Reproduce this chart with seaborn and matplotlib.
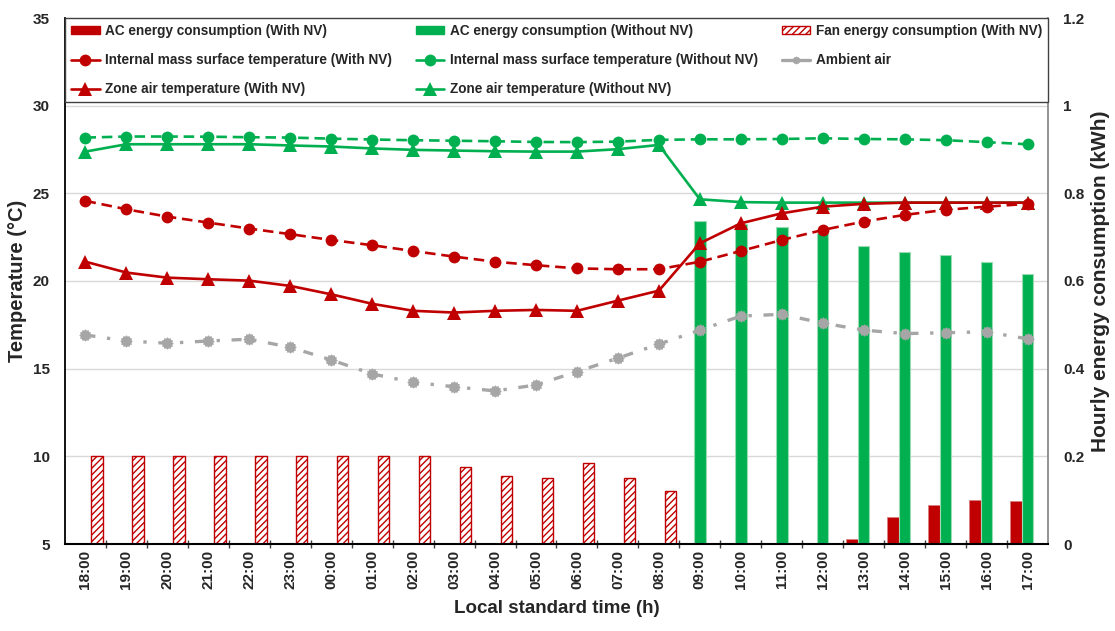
import numpy as np
import pandas as pd
import matplotlib
matplotlib.use("Agg")
import matplotlib.pyplot as plt
import seaborn as sns
from matplotlib.lines import Line2D
from matplotlib.patches import Patch
from matplotlib.path import Path
from matplotlib.ticker import FixedLocator, MultipleLocator

# ---- data -------------------------------------------------------------
hours = ["18:00", "19:00", "20:00", "21:00", "22:00", "23:00", "00:00", "01:00",
         "02:00", "03:00", "04:00", "05:00", "06:00", "07:00", "08:00", "09:00",
         "10:00", "11:00", "12:00", "13:00", "14:00", "15:00", "16:00", "17:00"]

nan = np.nan
# hourly energy (kWh)
ac_with_nv = [nan] * 19 + [0.011, 0.061, 0.090, 0.100, 0.098]
ac_without_nv = [nan] * 15 + [0.737, 0.730, 0.724, 0.710, 0.680, 0.667, 0.659, 0.643, 0.616]
fan_with_nv = [0.200, 0.200, 0.200, 0.200, 0.200, 0.200, 0.200, 0.200, 0.200,
               0.175, 0.155, 0.150, 0.184, 0.150, 0.122] + [nan] * 9

# temperatures (°C)
mass_with_nv = [24.57, 24.09, 23.67, 23.33, 22.99, 22.67, 22.34, 22.04, 21.71, 21.39,
                21.10, 20.90, 20.72, 20.67, 20.67, 21.10, 21.71, 22.34, 22.91, 23.39,
                23.77, 24.06, 24.24, 24.40]
mass_without_nv = [28.18, 28.24, 28.24, 28.23, 28.20, 28.18, 28.12, 28.07, 28.03, 28.00,
                   27.97, 27.93, 27.92, 27.95, 28.05, 28.08, 28.08, 28.10, 28.14, 28.10,
                   28.08, 28.03, 27.92, 27.80]
zone_with_nv = [21.10, 20.48, 20.19, 20.10, 20.02, 19.72, 19.24, 18.70, 18.30, 18.20,
                18.30, 18.35, 18.30, 18.88, 19.45, 22.15, 23.29, 23.86, 24.24, 24.40,
                24.47, 24.47, 24.47, 24.47]
zone_without_nv = [27.38, 27.80, 27.80, 27.80, 27.80, 27.73, 27.67, 27.56, 27.48, 27.44,
                   27.40, 27.38, 27.38, 27.52, 27.76, 24.66, 24.50, 24.47, 24.47, 24.47,
                   24.47, 24.47, 24.47, 24.47]
ambient_air = [16.92, 16.58, 16.45, 16.58, 16.68, 16.22, 15.50, 14.70, 14.22, 13.97,
               13.73, 14.07, 14.83, 15.60, 16.40, 17.20, 18.00, 18.10, 17.60, 17.20,
               17.00, 17.05, 17.10, 16.70]

# ---- style ------------------------------------------------------------
sns.set_theme(style="white")
plt.rcParams["font.family"] = ["Liberation Sans", "DejaVu Sans"]
plt.rcParams["font.weight"] = "bold"
plt.rcParams["hatch.linewidth"] = 1.0

RED = "#C00000"
GREEN = "#00B050"
GREY = "#A6A6A6"

fig = plt.figure(figsize=(11.15, 6.31), dpi=100)
ax = fig.add_axes([65 / 1115, 87 / 631, 983 / 1115, 526 / 631])
ax2 = ax.twinx()

# ---- bars (right axis) ------------------------------------------------
bar_names = ["AC energy consumption (With NV)", "AC energy consumption (Without NV)",
             "Fan energy consumption (With NV)"]
energy = pd.DataFrame({
    "hour": hours * 3,
    "series": np.repeat(bar_names, len(hours)),
    "kWh": ac_with_nv + ac_without_nv + fan_with_nv,
}).dropna()

sns.barplot(data=energy, x="hour", y="kWh", hue="series", order=hours,
            hue_order=bar_names, palette=[RED, GREEN, "white"], saturation=1,
            width=0.84, errorbar=None, legend=False, ax=ax2)

ac_red_bars, ac_green_bars, fan_bars = ax2.containers[:3]
for p in ac_red_bars:
    p.set_facecolor(RED)
    p.set_edgecolor("#D98080")
    p.set_linewidth(0.6)
for p in ac_green_bars:
    p.set_facecolor(GREEN)
    p.set_edgecolor("#9ADBB3")
    p.set_linewidth(0.8)
for p in fan_bars:
    p.set_facecolor("white")
    p.set_edgecolor(RED)
    p.set_hatch("/////")
    p.set_linewidth(1.0)

# ---- lines (left axis) ------------------------------------------------
pos = np.arange(len(hours))

t = np.linspace(0, 2 * np.pi, 25)[:-1]
r = np.where(np.arange(24) % 2 == 0, 1.0, 0.80)
gear = Path(np.column_stack([r * np.cos(t), r * np.sin(t)]).tolist() + [[1.0, 0.0]],
            closed=True)

dash = (0, (4, 2.2))
sns.lineplot(x=pos, y=mass_without_nv, ax=ax, color=GREEN, linestyle=dash, lw=1.9,
             marker="o", markersize=8.5, markeredgewidth=0, legend=False)
sns.lineplot(x=pos, y=zone_without_nv, ax=ax, color=GREEN, linestyle="-", lw=1.9,
             marker="^", markersize=9.5, markeredgewidth=0, legend=False)
sns.lineplot(x=pos, y=ambient_air, ax=ax, color=GREY, linestyle=(0, (3, 3.5, 1, 3.5)),
             lw=2.4, marker=gear, markersize=9, markeredgewidth=0, legend=False)
sns.lineplot(x=pos, y=mass_with_nv, ax=ax, color=RED, linestyle=dash, lw=1.9,
             marker="o", markersize=8.5, markeredgewidth=0, legend=False)
sns.lineplot(x=pos, y=zone_with_nv, ax=ax, color=RED, linestyle="-", lw=1.9,
             marker="^", markersize=9.5, markeredgewidth=0, legend=False)

# lines above bars
ax.set_zorder(ax2.get_zorder() + 1)
ax.patch.set_visible(False)
ax2.patch.set_visible(True)
ax2.patch.set_facecolor("white")

# ---- axes -------------------------------------------------------------
ax.set_xlim(-0.5, len(hours) - 0.5)
ax.set_ylim(5, 35)
ax.yaxis.set_major_locator(MultipleLocator(5))
ax2.set_ylim(0, 1.2)
ax2.set_yticks([0, 0.2, 0.4, 0.6, 0.8, 1.0, 1.2])
ax2.set_yticklabels(["0", "0.2", "0.4", "0.6", "0.8", "1", "1.2"])
ax2.yaxis.grid(True, color="#D9D9D9", lw=1)
ax2.set_axisbelow(True)
ax.grid(False)

ax.set_xticks(pos)
ax.set_xticklabels(hours, rotation=90, fontsize=11, fontweight="bold")
ax.xaxis.set_minor_locator(FixedLocator(pos[:-1] + 0.5))
ax.tick_params(axis="x", which="major", length=0, pad=4)
ax.tick_params(axis="x", which="minor", length=6, width=1, direction="inout",
               color="#404040", bottom=True)
ax.tick_params(axis="y", length=0, pad=11, labelsize=11)
ax2.tick_params(axis="y", length=0, pad=11, labelsize=11)
for lab in ax.get_yticklabels() + ax2.get_yticklabels():
    lab.set_fontweight("bold")

ax.set_xlabel("Local standard time (h)", fontsize=13.5, fontweight="bold", labelpad=8)
ax.set_ylabel("Temperature (°C)", fontsize=14.5, fontweight="bold")
ax.yaxis.label.set_va("center")
ax.yaxis.set_label_coords(-47 / 983, 0.5)
ax2.set_ylabel("Hourly energy consumption (kWh)", fontsize=15, fontweight="bold")
ax2.yaxis.label.set_va("center")
ax2.yaxis.set_label_coords(1 + 52 / 983, 0.5)

for a in (ax, ax2):
    a.spines["top"].set_visible(False)
ax.spines["left"].set_color("black")
ax.spines["left"].set_linewidth(1.3)
ax.spines["bottom"].set_color("black")
ax.spines["bottom"].set_linewidth(1.5)
ax.spines["right"].set_visible(False)
ax2.spines["left"].set_visible(False)
ax2.spines["bottom"].set_visible(False)
ax2.spines["right"].set_color("#7F7F7F")
ax2.spines["right"].set_linewidth(1.2)

# ---- legend -----------------------------------------------------------
handles = [
    Patch(facecolor=RED, edgecolor=RED),
    Line2D([], [], color=RED, lw=1.9, marker="o", markersize=8.5, markeredgewidth=0),
    Line2D([], [], color=RED, lw=1.9, marker="^", markersize=9.5, markeredgewidth=0),
    Patch(facecolor=GREEN, edgecolor=GREEN),
    Line2D([], [], color=GREEN, lw=1.9, marker="o", markersize=8.5, markeredgewidth=0),
    Line2D([], [], color=GREEN, lw=1.9, marker="^", markersize=9.5, markeredgewidth=0),
    Patch(facecolor="white", edgecolor=RED, hatch="/////"),
    Line2D([], [], color=GREY, lw=2.4, marker=gear, markersize=6, markeredgewidth=0),
]
labels = [
    "AC energy consumption (With NV)",
    "Internal mass surface temperature (With NV)",
    "Zone air temperature (With NV)",
    "AC energy consumption (Without NV)",
    "Internal mass surface temperature (Without NV)",
    "Zone air temperature (Without NV)",
    "Fan energy consumption (With NV)",
    "Ambient air",
]
leg = ax.legend(handles, labels, ncol=3, loc="upper left", bbox_to_anchor=(0, 1, 1, 0),
                mode="expand", borderaxespad=0, borderpad=0.45, labelspacing=1.1,
                handlelength=2.1, handleheight=0.55, handletextpad=0.4,
                columnspacing=0.5, fontsize=9.8, frameon=True, fancybox=False,
                framealpha=1, edgecolor="#404040")
leg.get_frame().set_linewidth(1.0)
for txt in leg.get_texts():
    txt.set_fontweight("bold")

fig.savefig("out.png", dpi=100, facecolor="white")
